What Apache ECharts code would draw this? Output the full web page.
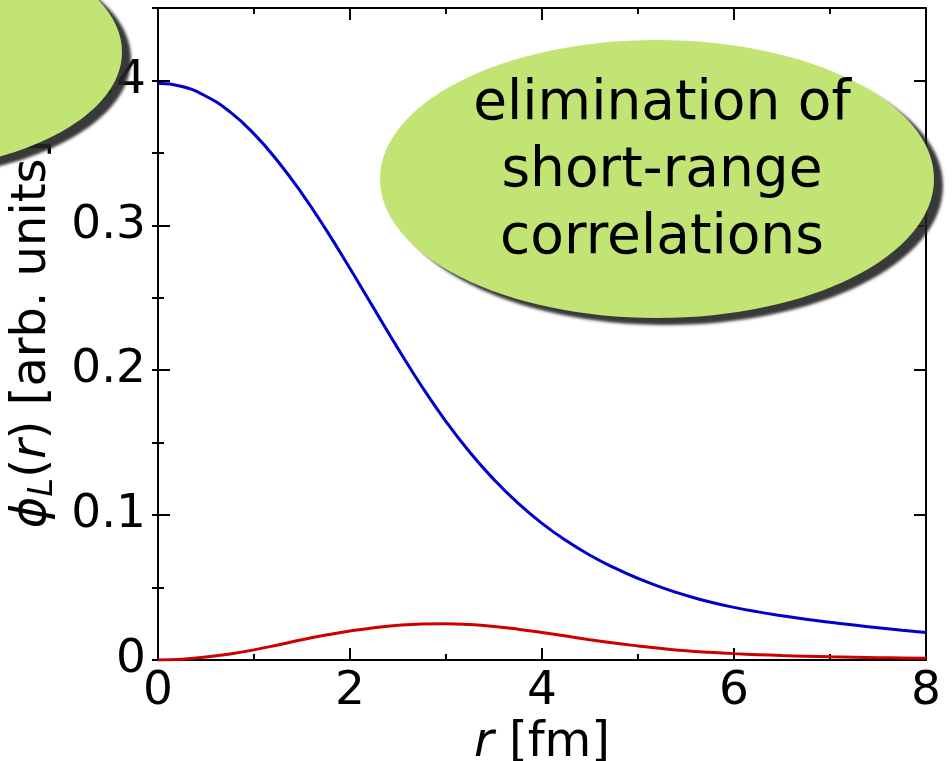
<!DOCTYPE html>
<html>
<head>
<meta charset="utf-8">
<script src="https://cdn.jsdelivr.net/npm/echarts@6/dist/echarts.min.js"></script>
<style>
  html, body { margin: 0; padding: 0; background: #fff; }
  #chart { width: 952px; height: 761px; }
</style>
</head>
<body>
<div id="chart"></div>
<script>
	// r [fm]
	var rValues = [0, 0.25, 0.5, 0.75, 1.0, 1.25, 1.5, 1.75, 2.0, 2.25, 2.5, 2.75, 3.0,
		3.25, 3.5, 3.75, 4.0, 4.25, 4.5, 4.75, 5.0, 5.25, 5.5, 5.75, 6.0,
		6.25, 6.5, 6.75, 7.0, 7.25, 7.5, 7.75, 8.0];
	// blue curve
	var phiBlue = [0.398, 0.3958, 0.3891, 0.3783, 0.3631, 0.3441, 0.3219, 0.2970, 0.2702, 0.2425, 0.2149, 0.1886, 0.1646,
		0.1432, 0.1245, 0.1082, 0.0943, 0.0824, 0.0723, 0.0637, 0.0563, 0.0500, 0.0446, 0.0400, 0.0363,
		0.0332, 0.0305, 0.0281, 0.0260, 0.0241, 0.0223, 0.0206, 0.0190];
	// red curve
	var phiRed = [0, 0.0006, 0.002, 0.0042, 0.007, 0.0104, 0.014, 0.0172, 0.020, 0.0223, 0.024, 0.0249, 0.0251,
		0.0245, 0.0232, 0.0213, 0.0190, 0.0165, 0.0140, 0.0117, 0.0097, 0.0079, 0.0064, 0.0053, 0.0044,
		0.0037, 0.0031, 0.0026, 0.0022, 0.0019, 0.0016, 0.0014, 0.0012];
	var xTicks = [0, 2, 4, 6, 8];
	var yTicks = [0, 0.1, 0.2, 0.3, 0.4];
	var bubbleText = ['elimination of', 'short-range', 'correlations'];

	function pairs(xs, ys) {
		var out = [];
		for (var i = 0; i < xs.length; i++) {
			out.push([xs[i], ys[i]]);
		}
		return out;
	}

	var font = 'DejaVu Sans';
	var black = '#000';

	function baseAxis(extra) {
		var a = {
			type: 'value',
			axisLine: { show: true, onZero: false, lineStyle: { color: black, width: 2 } },
			axisTick: { show: true, inside: true, length: 12, lineStyle: { color: black, width: 2 } },
			axisLabel: { show: false },
			splitLine: { show: false }
		};
		for (var k in extra) a[k] = extra[k];
		return a;
	}

	// 气泡样式
	var bubbleStyle = {
		fill: '#c1e475',
		shadowColor: 'rgba(35,35,35,0.9)',
		shadowBlur: 3,
		shadowOffsetX: 9,
		shadowOffsetY: 7
	};

	var chart = echarts.init(document.getElementById('chart'));

	chart.setOption({
		animation: false,
		grid: {
			left: 158,
			right: 26,
			top: 8,
			bottom: 101,
			containLabel: false,
			outerBoundsMode: 'none'
		},
		xAxis: [
			baseAxis({
				position: 'bottom',
				min: 0, max: 8, interval: 2,
				minorTick: { show: true, splitNumber: 2, length: 6, lineStyle: { color: black, width: 2 } },
				axisLabel: {
					show: true, fontFamily: font, fontSize: 47, color: black, margin: 8,
					formatter: function (v) { return xTicks.indexOf(v) >= 0 ? String(v) : ''; }
				},
				name: '{i|r}{n| [fm]}',
				nameLocation: 'middle',
				nameGap: 49,
				nameTextStyle: {
					rich: {
						i: { fontFamily: font, fontSize: 48, fontStyle: 'italic', color: black },
						n: { fontFamily: font, fontSize: 48, color: black }
					}
				}
			}),
			baseAxis({
				position: 'top',
				min: 0, max: 8, interval: 2,
				minorTick: { show: true, splitNumber: 2, length: 6, lineStyle: { color: black, width: 2 } }
			})
		],
		yAxis: [
			baseAxis({
				position: 'left',
				min: 0, max: 0.45, interval: 0.1,
				axisLabel: {
					show: true, fontFamily: font, fontSize: 47, color: black, margin: 12,
					formatter: function (v) {
						for (var i = 0; i < yTicks.length; i++) {
							if (Math.abs(yTicks[i] - v) < 1e-6) return v === 0 ? '0' : v.toFixed(1);
						}
						return '';
					}
				},
				name: '{i|ϕ}{s|L}{n|(}{i|r}{n|) [arb. units]}',
				nameLocation: 'middle',
				nameRotate: 90,
				nameGap: 76,
				nameTextStyle: {
					rich: {
						i: { fontFamily: font, fontSize: 48, fontStyle: 'italic', color: black, lineHeight: 56 },
						s: { fontFamily: font, fontSize: 34, fontStyle: 'italic', color: black, lineHeight: 34, verticalAlign: 'bottom' },
						n: { fontFamily: font, fontSize: 48, color: black, lineHeight: 56 }
					}
				}
			}),
			baseAxis({
				position: 'left',
				min: 0, max: 0.45, interval: 0.05,
				axisLine: { show: false },
				axisTick: { show: true, inside: true, length: 6, lineStyle: { color: black, width: 2 } }
			}),
			baseAxis({
				position: 'right',
				min: 0, max: 0.45, interval: 0.1
			}),
			baseAxis({
				position: 'right',
				min: 0, max: 0.45, interval: 0.05,
				axisLine: { show: false },
				axisTick: { show: true, inside: true, length: 6, lineStyle: { color: black, width: 2 } }
			})
		],
		series: [
			{
				name: 'full',
				type: 'line',
				data: pairs(rValues, phiBlue),
				smooth: 0.5,
				symbol: 'none',
				lineStyle: { color: '#0000cc', width: 3 },
				z: 3
			},
			{
				name: 'low-momentum',
				type: 'line',
				data: pairs(rValues, phiRed),
				smooth: 0.5,
				symbol: 'none',
				lineStyle: { color: '#cc0000', width: 3 },
				z: 3
			}
		],
		graphic: [
			{
				type: 'ellipse',
				z: 100,
				shape: { cx: -118, cy: 52, rx: 240, ry: 120 },
				style: bubbleStyle
			},
			{
				type: 'ellipse',
				z: 100,
				shape: { cx: 657, cy: 179, rx: 277, ry: 139 },
				style: bubbleStyle
			},
			{
				type: 'text',
				z: 101,
				x: 662,
				y: 172,
				style: {
					text: bubbleText.join('\n'),
					fontFamily: font,
					fontSize: 55,
					lineHeight: 67,
					fill: black,
					align: 'center',
					verticalAlign: 'middle'
				}
			}
		]
	});
</script>
</body>
</html>
